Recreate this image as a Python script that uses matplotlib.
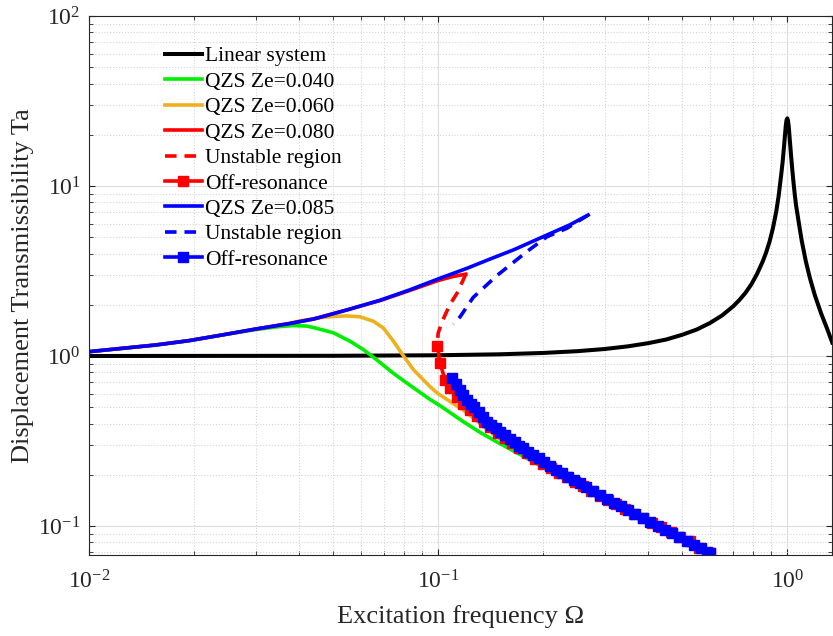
import numpy as np
import matplotlib
matplotlib.use("Agg")
import matplotlib.pyplot as plt

plt.rcParams['font.family'] = ['Liberation Serif', 'DejaVu Serif']
plt.rcParams['mathtext.fontset'] = 'custom'
plt.rcParams['mathtext.rm'] = 'Liberation Serif'
plt.rcParams['mathtext.it'] = 'Liberation Serif:italic'
plt.rcParams['axes.unicode_minus'] = False

# linear system
lin_w = [0.010, 0.05, 0.1, 0.15, 0.2, 0.25, 0.3, 0.35, 0.4, 0.45, 0.5, 0.55, 0.6, 0.65,
         0.7, 0.73, 0.76, 0.79, 0.82, 0.85, 0.87, 0.89, 0.91, 0.93, 0.945, 0.96, 0.97,
         0.98, 0.99, 0.995, 1.0, 1.005, 1.01, 1.02, 1.03, 1.04, 1.05, 1.06, 1.08, 1.1,
         1.13, 1.16, 1.2, 1.25, 1.3, 1.345]
lin_ta = [1.0, 1.0025, 1.01, 1.023, 1.042, 1.067, 1.099, 1.14, 1.19, 1.25, 1.333, 1.43,
          1.562, 1.73, 1.96, 2.14, 2.36, 2.65, 3.05, 3.59, 4.07, 4.72, 5.67, 7.1, 8.8,
          11.5, 13.9, 17.6, 22.6, 24.4, 25.0, 24.2, 22.2, 17.2, 13.5, 10.9, 9.0, 7.65,
          6.0, 4.76, 3.61, 2.89, 2.27, 1.78, 1.45, 1.20]

# QZS Ze=0.040
g_w = [0.010, 0.0125, 0.0155, 0.0193, 0.0241, 0.030, 0.0352, 0.0385, 0.042, 0.044,
       0.0501, 0.056, 0.0611, 0.0667, 0.0745, 0.085, 0.0948, 0.1013, 0.118, 0.132,
       0.147, 0.165, 0.1835, 0.205, 0.230, 0.260, 0.300, 0.350, 0.400, 0.500, 0.600]
g_ta = [1.06, 1.11, 1.16, 1.23, 1.33, 1.43, 1.49, 1.51, 1.50, 1.47, 1.37, 1.22, 1.09,
        0.95, 0.79, 0.65, 0.555, 0.51, 0.411, 0.355, 0.313, 0.275, 0.244, 0.215, 0.190,
        0.166, 0.140, 0.119, 0.104, 0.083, 0.069]

# QZS Ze=0.060
o_w = [0.010, 0.0125, 0.0155, 0.0193, 0.0241, 0.030, 0.0374, 0.0402, 0.0459, 0.0505,
       0.0547, 0.0598, 0.0653, 0.0697, 0.0745, 0.0796, 0.085, 0.0948, 0.1, 0.118, 0.147,
       0.1644, 0.185, 0.205, 0.230, 0.260, 0.300, 0.350, 0.400, 0.500, 0.600]
o_ta = [1.06, 1.11, 1.16, 1.23, 1.33, 1.44, 1.55, 1.61, 1.68, 1.71, 1.72, 1.70, 1.60,
        1.46, 1.22, 1.00, 0.83, 0.66, 0.60, 0.481, 0.335, 0.292, 0.256, 0.228, 0.199,
        0.172, 0.143, 0.120, 0.105, 0.0835, 0.0695]

# QZS Ze=0.080
r_w = [0.010, 0.0125, 0.0155, 0.0193, 0.0241, 0.030, 0.0374, 0.044, 0.055, 0.0683,
       0.083, 0.1, 0.11, 0.12]
r_ta = [1.06, 1.11, 1.16, 1.23, 1.33, 1.44, 1.55, 1.65, 1.87, 2.12, 2.43, 2.78, 2.93, 3.03]
r_uns_w = [0.120, 0.117, 0.114, 0.108, 0.1026, 0.1, 0.0995]
r_uns_ta = [3.03, 2.70, 2.39, 2.0, 1.59, 1.36, 1.15]
r_off_w = [0.0995, 0.1013, 0.1047, 0.108, 0.113, 0.118, 0.1235, 0.129, 0.135, 0.141,
           0.148, 0.155, 0.163, 0.171, 0.180, 0.190, 0.200, 0.211, 0.222, 0.234, 0.247,
           0.260, 0.274, 0.290, 0.306, 0.324, 0.343, 0.364, 0.386, 0.410, 0.436, 0.464,
           0.494, 0.526, 0.560, 0.600]
r_off_ta = [1.15, 0.906, 0.723, 0.649, 0.577, 0.525, 0.481, 0.445, 0.410, 0.380, 0.352,
            0.328, 0.306, 0.286, 0.267, 0.249, 0.233, 0.219, 0.205, 0.193, 0.181, 0.171,
            0.161, 0.151, 0.142, 0.134, 0.126, 0.118, 0.111, 0.1045, 0.098, 0.092,
            0.0865, 0.0812, 0.0742, 0.0695]

# QZS Ze=0.085
b_w = [0.010, 0.0125, 0.0155, 0.0193, 0.0241, 0.030, 0.0374, 0.044, 0.055, 0.0683,
       0.083, 0.1, 0.121, 0.140, 0.1644, 0.205, 0.238, 0.269]
b_ta = [1.06, 1.11, 1.16, 1.23, 1.33, 1.44, 1.55, 1.65, 1.87, 2.13, 2.45, 2.84, 3.28,
        3.70, 4.21, 5.15, 5.9, 6.75]
b_uns_w = [0.269, 0.2338, 0.205, 0.1795, 0.147, 0.126, 0.1156, 0.1105]
b_uns_ta = [6.75, 5.64, 5.03, 4.11, 2.96, 2.21, 1.70, 1.54]
b_off_w = [0.1094, 0.1125, 0.1156, 0.118, 0.1208, 0.124, 0.127, 0.131, 0.1345, 0.138,
           0.142, 0.146, 0.1506, 0.155, 0.1608, 0.166, 0.171, 0.1755, 0.181, 0.1875,
           0.194, 0.201, 0.209, 0.217, 0.226, 0.235, 0.245, 0.255, 0.266, 0.278, 0.290,
           0.304, 0.318, 0.333, 0.349, 0.366, 0.385, 0.405, 0.425, 0.446, 0.468, 0.491,
           0.515, 0.540, 0.566, 0.590, 0.602]
b_off_ta = [0.740, 0.685, 0.631, 0.590, 0.551, 0.525, 0.498, 0.467, 0.438, 0.411, 0.392,
            0.375, 0.359, 0.343, 0.323, 0.310, 0.297, 0.286, 0.274, 0.262, 0.250, 0.237,
            0.225, 0.214, 0.204, 0.195, 0.186, 0.178, 0.169, 0.160, 0.152, 0.144, 0.137,
            0.131, 0.124, 0.118, 0.112, 0.1055, 0.100, 0.095, 0.0905, 0.086, 0.0815,
            0.0775, 0.0737, 0.0705, 0.0690]

fig = plt.figure(figsize=(8.33, 6.36), dpi=100)
ax = fig.add_axes([0.1068, 0.1274, 0.892, 0.8474])

lw = 2.6
ms = 6.5
ax.plot(lin_w, lin_ta, color='k', lw=2.9, label='Linear system')
ax.plot(g_w, g_ta, color='#00ee00', lw=lw, label='QZS Ze=0.040')
ax.plot(o_w, o_ta, color='#EDB120', lw=lw, label='QZS Ze=0.060')
ax.plot(r_w, r_ta, color='r', lw=lw, label='QZS Ze=0.080')
ax.plot(r_uns_w, r_uns_ta, color='r', lw=lw, ls=(0, (3.2, 2.2)), label='Unstable region')
ax.plot(r_off_w, r_off_ta, color='r', lw=lw, marker='s', ms=ms, label='Off-resonance')
ax.plot(b_w, b_ta, color='b', lw=lw, label='QZS Ze=0.085')
ax.plot(b_uns_w, b_uns_ta, color='b', lw=lw, ls=(0, (3.2, 2.2)), label='Unstable region')
ax.plot(b_off_w, b_off_ta, color='b', lw=lw, marker='s', ms=ms, label='Off-resonance')

ax.set_xscale('log')
ax.set_yscale('log')
ax.set_xlim(0.01, 1.343)
ax.set_ylim(0.0675, 100)

ax.grid(True, which='major', color='#dddddd', lw=0.8, ls='-')
ax.grid(True, which='minor', color='#d5d5d5', lw=0.8, ls=':')
ax.set_axisbelow(True)

ax.tick_params(which='both', direction='in', top=True, right=True, colors='#262626',
               labelcolor='#262626', labelsize=17)
ax.tick_params(which='major', length=4.5, width=0.8)
ax.tick_params(which='minor', length=3, width=0.6)
for s in ax.spines.values():
    s.set_color('#262626')
    s.set_linewidth(0.8)
ax.tick_params(axis='x', pad=11)
ax.tick_params(axis='y', pad=6)

ax.set_xlabel('Excitation frequency Ω', fontsize=19, color='#262626', labelpad=8)
ax.set_ylabel('Displacement Transmissibility Ta', fontsize=19, color='#262626', labelpad=3)

ax.legend(loc='upper left', bbox_to_anchor=(0.102, 0.944), frameon=False, fontsize=15.5,
          handlelength=1.72, handletextpad=0.15, labelspacing=0.25, borderpad=0,
          borderaxespad=0)

fig.savefig('out.png', dpi=100)
